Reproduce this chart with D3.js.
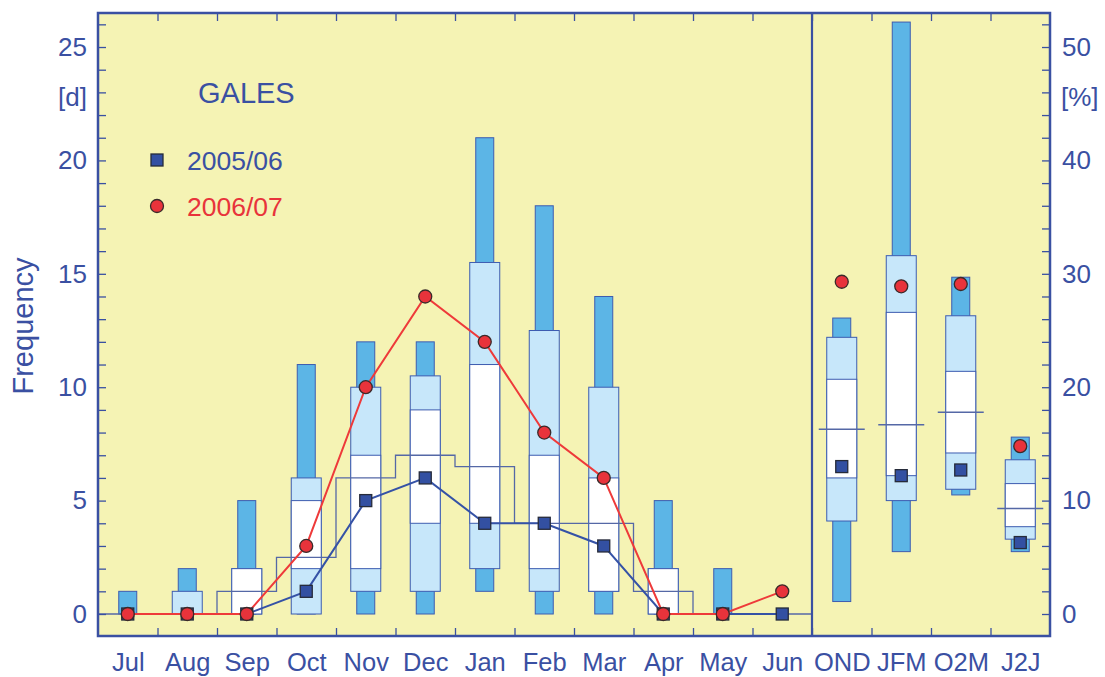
<!DOCTYPE html>
<html>
<head>
<title>Gales frequency</title>
<script src="https://d3js.org/d3.v7.min.js"></script>
<style type="text/css">
  body { margin:0; background:#fff; }
  #chart { position:absolute; top:0; left:0; }
  text { font-family: "Liberation Sans", Arial, Helvetica, sans-serif; }
</style>
</head>
<body>
<div id="chart"></div>
<script type="text/javascript">

// categories
var months  = ["Jul","Aug","Sep","Oct","Nov","Dec","Jan","Feb","Mar","Apr","May","Jun"];
var seasons = ["OND","JFM","O2M","J2J"];

// monthly climatology [days]
var monMin  = [0, 0, 0, 0, 0, 0,   1,    0,    0,  0, 0, 0];
var monLo   = [0, 0, 0, 0, 1, 1,   2,    1,    1,  0, 0, 0];
var monQ1   = [0, 0, 0, 2, 2, 4,   4,    2,    1,  0, 0, 0];
var monQ3   = [0, 0, 2, 5, 7, 9,   11,   7,    6,  2, 0, 0];
var monHi   = [0, 1, 2, 6, 10,10.5,15.5, 12.5, 10, 2, 0, 0];
var monMax  = [1, 2, 5, 11,12,12,  21,   18,   14, 5, 2, 0];
var monMean = [0, 0, 1, 2.5,6,7,   6.5,  4,    4,  1, 0, 0];

// monthly seasons observed [days]
var mon0506 = [0, 0, 0, 1, 5, 6, 4, 4, 3, 0, 0, 0];
var mon0607 = [0, 0, 0, 3, 10,14,12, 8, 6, 0, 0, 1];

// seasonal climatology [%]
var seaMin  = [1.1, 5.5, 10.5, 5.5];
var seaLo   = [8.2, 10.0, 11.0, 6.6];
var seaQ1   = [12.0, 12.2, 14.2, 7.7];
var seaQ3   = [20.7, 26.6, 21.4, 11.5];
var seaHi   = [24.4, 31.6, 26.3, 13.6];
var seaMax  = [26.1, 52.2, 29.7, 15.6];
var seaMean = [16.3, 16.7, 17.8, 9.3];
var sea0506 = [13.0, 12.2, 12.7, 6.3];
var sea0607 = [29.3, 28.9, 29.1, 14.8];

var dayTicks = [0, 5, 10, 15, 20, 25];
var pctTicks = [0, 10, 20, 30, 40, 50];

var width = 1105, height = 677;
var pLeft = 98, pRight = 1050, pTop = 13, pBottom = 636;

var blue = "#3a50a2", red = "#e8333b";
var darkFill = "#5cb5e6", lightFill = "#c7e7fa", boxStroke = "#3d5cb0";
var meanStroke = "#5568a6";

var svg = d3.select("#chart").append("svg")
    .attr("width", width).attr("height", height);

var cats = months.concat(seasons);
var x = d3.scaleLinear().domain([0, cats.length]).range([pLeft, pRight]);
var y = d3.scaleLinear().domain([-0.97, 26.5]).range([pBottom, pTop]);
var yp = d3.scaleLinear().domain([-1.94, 53]).range([pBottom, pTop]);

svg.append("rect")
   .attr("x", pLeft).attr("y", pTop)
   .attr("width", pRight - pLeft).attr("height", pBottom - pTop)
   .attr("fill", "#f5f3b4");

// boxes
function drawBoxes(g, off, mn, lo, q1, q3, hi, mx, sc) {
  var idx = d3.range(mn.length);
  g.selectAll(".dark").data(idx.filter(function(i){ return mx[i] > mn[i]; }))
    .enter().append("rect")
    .attr("x", function(i){ return x(off + i + 0.5) - 9; })
    .attr("width", 18)
    .attr("y", function(i){ return sc(mx[i]); })
    .attr("height", function(i){ return sc(mn[i]) - sc(mx[i]); })
    .attr("fill", darkFill).attr("stroke", boxStroke).attr("stroke-width", 1);
  g.selectAll(".light").data(idx.filter(function(i){ return hi[i] > lo[i]; }))
    .enter().append("rect")
    .attr("x", function(i){ return x(off + i + 0.5) - 15; })
    .attr("width", 30)
    .attr("y", function(i){ return sc(hi[i]); })
    .attr("height", function(i){ return sc(lo[i]) - sc(hi[i]); })
    .attr("fill", lightFill).attr("stroke", boxStroke).attr("stroke-width", 1);
  g.selectAll(".white").data(idx.filter(function(i){ return q3[i] > q1[i]; }))
    .enter().append("rect")
    .attr("x", function(i){ return x(off + i + 0.5) - 15; })
    .attr("width", 30)
    .attr("y", function(i){ return sc(q3[i]); })
    .attr("height", function(i){ return sc(q1[i]) - sc(q3[i]); })
    .attr("fill", "#fff").attr("stroke", boxStroke).attr("stroke-width", 1);
}

drawBoxes(svg.append("g"), 0, monMin, monLo, monQ1, monQ3, monHi, monMax, y);
drawBoxes(svg.append("g"), 12, seaMin, seaLo, seaQ1, seaQ3, seaHi, seaMax, yp);

// monthly mean as steps
var stepPts = [];
monMean.forEach(function(m, i){ stepPts.push([i, m]); stepPts.push([i + 1, m]); });
svg.append("path")
   .attr("d", d3.line().x(function(d){ return x(d[0]); }).y(function(d){ return y(d[1]); })(stepPts))
   .attr("fill", "none").attr("stroke", meanStroke).attr("stroke-width", 1.3);

// seasonal mean
svg.selectAll(".smean").data(seaMean).enter().append("line")
   .attr("x1", function(d, i){ return x(12 + i + 0.5) - 23; })
   .attr("x2", function(d, i){ return x(12 + i + 0.5) + 23; })
   .attr("y1", function(d){ return yp(d); })
   .attr("y2", function(d){ return yp(d); })
   .attr("stroke", meanStroke).attr("stroke-width", 1.5);

// season lines
var line = d3.line().x(function(d, i){ return x(i + 0.5); }).y(function(d){ return y(d); });
svg.append("path").attr("d", line(mon0506))
   .attr("fill", "none").attr("stroke", "#3552a6").attr("stroke-width", 2);
svg.append("path").attr("d", line(mon0607))
   .attr("fill", "none").attr("stroke", "#ee3a3a").attr("stroke-width", 2);

function squares(data, off, sc) {
  svg.append("g").selectAll("rect").data(data).enter().append("rect")
     .attr("x", function(d, i){ return x(off + i + 0.5) - 6; })
     .attr("y", function(d){ return sc(d) - 6; })
     .attr("width", 12).attr("height", 12)
     .attr("fill", "#3350a2").attr("stroke", "#262b3a").attr("stroke-width", 1.3);
}
function circles(data, off, sc) {
  svg.append("g").selectAll("circle").data(data).enter().append("circle")
     .attr("cx", function(d, i){ return x(off + i + 0.5); })
     .attr("cy", function(d){ return sc(d); })
     .attr("r", 6.5)
     .attr("fill", red).attr("stroke", "#3a2a2a").attr("stroke-width", 1.3);
}
squares(mon0506, 0, y);
squares(sea0506, 12, yp);
circles(mon0607, 0, y);
circles(sea0607, 12, yp);

// axes
function styleAxis(g, size) {
  g.select(".domain").remove();
  g.selectAll("line").attr("stroke", blue).attr("stroke-width", 1.3);
  g.selectAll("text").attr("fill", blue).style("font-size", size + "px");
}

svg.append("g").attr("transform", "translate(" + pLeft + ",0)")
   .call(d3.axisLeft(y).tickValues(d3.range(0, 27)).tickSize(-8).tickPadding(11)
          .tickFormat(function(d){ return dayTicks.indexOf(d) >= 0 ? d : ""; }))
   .call(styleAxis, 26);

svg.append("g").attr("transform", "translate(" + pRight + ",0)")
   .call(d3.axisRight(yp).tickValues(d3.range(0, 54, 2)).tickSize(-8).tickPadding(12)
          .tickFormat(function(d){ return pctTicks.indexOf(d) >= 0 ? d : ""; }))
   .call(styleAxis, 26);

svg.append("g").attr("transform", "translate(0," + pBottom + ")")
   .call(d3.axisBottom(x).tickValues(d3.range(1, cats.length)).tickSize(-8).tickFormat(""))
   .call(styleAxis, 25);

svg.append("g").attr("transform", "translate(0," + pTop + ")")
   .call(d3.axisTop(x).tickValues(d3.range(1, cats.length)).tickSize(-8).tickFormat(""))
   .call(styleAxis, 25);

svg.append("g").attr("transform", "translate(0," + pBottom + ")")
   .call(d3.axisBottom(x).tickValues(d3.range(0.5, cats.length)).tickSize(0).tickPadding(17)
          .tickFormat(function(d){ return cats[Math.floor(d)]; }))
   .call(styleAxis, 25.5);

// frame and divider
svg.append("rect")
   .attr("x", pLeft).attr("y", pTop)
   .attr("width", pRight - pLeft).attr("height", pBottom - pTop)
   .attr("fill", "none").attr("stroke", blue).attr("stroke-width", 2.5);
svg.append("line")
   .attr("x1", x(12)).attr("x2", x(12)).attr("y1", pTop).attr("y2", pBottom)
   .attr("stroke", blue).attr("stroke-width", 2.2);

// unit labels
svg.append("text").attr("x", 87).attr("y", 106).attr("text-anchor", "end")
   .attr("fill", blue).style("font-size", "26px").text("[d]");
svg.append("text").attr("x", 1061).attr("y", 106)
   .attr("fill", blue).style("font-size", "26px").text("[%]");
svg.append("text")
   .attr("transform", "translate(33,326) rotate(-90)")
   .attr("text-anchor", "middle")
   .attr("fill", blue).style("font-size", "29px").text("Frequency");

// title and legend
svg.append("text").attr("x", 198).attr("y", 103)
   .attr("fill", blue).style("font-size", "29px").text("GALES");
svg.append("rect").attr("x", 151).attr("y", 154).attr("width", 12).attr("height", 12)
   .attr("fill", "#3350a2").attr("stroke", "#262b3a").attr("stroke-width", 1.3);
svg.append("text").attr("x", 187).attr("y", 170)
   .attr("fill", blue).style("font-size", "26.5px").text("2005/06");
svg.append("circle").attr("cx", 157).attr("cy", 206).attr("r", 6.5)
   .attr("fill", red).attr("stroke", "#3a2a2a").attr("stroke-width", 1.3);
svg.append("text").attr("x", 187).attr("y", 216)
   .attr("fill", red).style("font-size", "26.5px").text("2006/07");

</script>
</body>
</html>
